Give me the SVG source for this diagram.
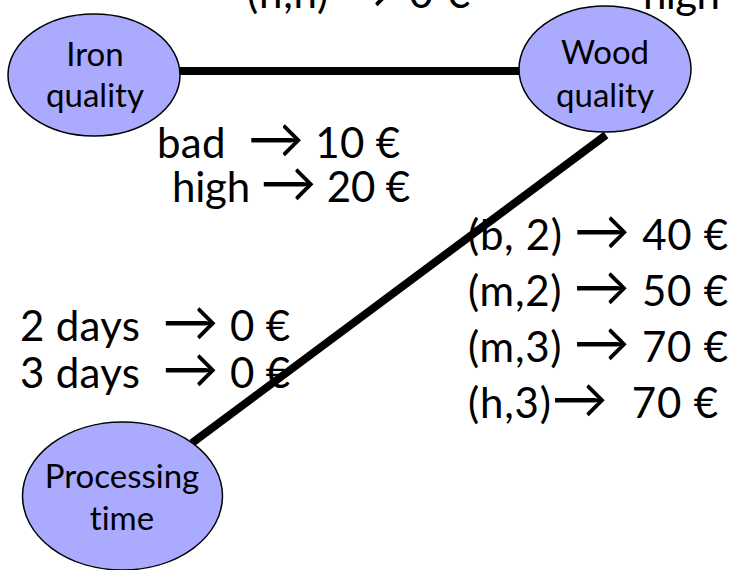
<svg xmlns="http://www.w3.org/2000/svg" width="739" height="570" viewBox="0 0 739 570">
<style>
.node{fill:#aaaaff;stroke:#000;stroke-width:1.5}
.nt{font-family:Lato,"Open Sans","Liberation Sans",sans-serif;font-size:33px;fill:#000;text-anchor:middle;font-variant-ligatures:none}
.lb{font-family:Lato,"Open Sans","Liberation Sans",sans-serif;font-size:42px;fill:#000;font-variant-ligatures:none}
.ar{font-size:56px}
.edge{stroke:#000;stroke-width:8;fill:none}
</style>
<rect width="739" height="570" fill="#fff"/>
<g id="connectors">
<line class="edge" x1="180" y1="71" x2="520" y2="71"/>
<line class="edge" x1="192" y1="443" x2="606" y2="135"/>
</g>
<g id="iron">
<ellipse class="node" cx="94" cy="75" rx="86" ry="61"/>
<text class="nt" x="95" y="66">Iron</text>
<text class="nt" x="95" y="107">quality</text>
</g>
<g id="wood">
<ellipse class="node" cx="605" cy="69" rx="86" ry="63"/>
<text class="nt" x="605" y="64">Wood</text>
<text class="nt" x="605" y="107">quality</text>
</g>
<g id="processing">
<ellipse class="node" cx="122.5" cy="496" rx="100" ry="74"/>
<text class="nt" x="122" y="488">Processing</text>
<text class="nt" x="122" y="530">time</text>
</g>
<g id="labels">
<text class="lb" x="247" y="8" textLength="223">(h,h) <tspan class="ar">→</tspan> 0 €</text>
<text class="lb" x="643" y="9" textLength="77">high</text>
<text class="lb" x="157" y="158" textLength="243" xml:space="preserve">bad  <tspan class="ar">→</tspan> 10 €</text>
<text class="lb" x="172" y="202" textLength="238">high <tspan class="ar">→</tspan> 20 €</text>
<text class="lb" x="20" y="341" textLength="270" xml:space="preserve">2 days  <tspan class="ar">→</tspan> 0 €</text>
<text class="lb" x="20" y="388" textLength="270" xml:space="preserve">3 days  <tspan class="ar">→</tspan> 0 €</text>
<text class="lb" x="468" y="250" textLength="260">(b, 2) <tspan class="ar">→</tspan> 40 €</text>
<text class="lb" x="468" y="306" textLength="260">(m,2) <tspan class="ar">→</tspan> 50 €</text>
<text class="lb" x="468" y="362" textLength="260">(m,3) <tspan class="ar">→</tspan> 70 €</text>
<text class="lb" x="468" y="418" textLength="250" xml:space="preserve">(h,3)<tspan class="ar">→</tspan>  70 €</text>
</g>
</svg>
